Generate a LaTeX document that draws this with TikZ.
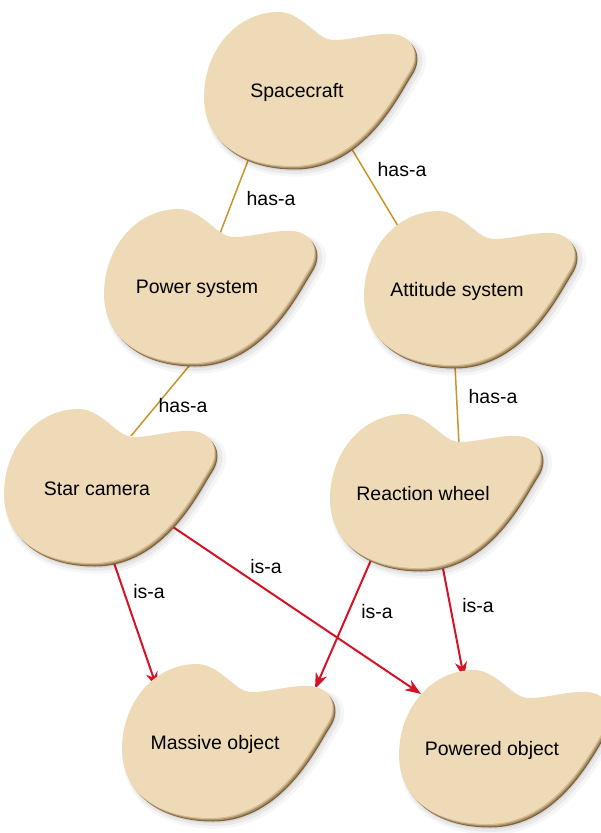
\documentclass[tikz,border=0pt]{standalone}
\usepackage{fontspec}
\setmainfont{Liberation Sans}
\usetikzlibrary{arrows.meta,calc}

\definecolor{blobfill}{RGB}{238,218,182}
\definecolor{blobrim}{RGB}{128,100,62}
\definecolor{blobmid}{RGB}{170,142,100}
\definecolor{bloblow}{RGB}{210,186,146}
\definecolor{hasline}{RGB}{198,148,40}
\definecolor{isline}{RGB}{214,18,38}

% outline of one bean-shaped blob, relative to its label centre
\newcommand\blobshape[1]{\fill[#1] (-93,5)
  .. controls (-93,-40) and (-62,-80) .. (-18,-80)
  .. controls (5,-80) and (18,-52) .. (37,-52)
  .. controls (55,-52) and (75,-59) .. (95,-58)
  .. controls (115,-57) and (124,-38) .. (112,-20)
  .. controls (100,-2) and (65,74) .. (-5,74)
  .. controls (-55,74) and (-93,50) .. (-93,5) -- cycle;}

\tikzset{
  lbl/.style={font=\fontsize{19.5}{22}\selectfont, inner sep=0pt},
  blob/.pic={
    % soft drop shadow
    \blobshape{black,opacity=0.035,shift={(6,7)},scale=1.05}
    \blobshape{black,opacity=0.05,shift={(5,6)},scale=1.025}
    \blobshape{black,opacity=0.07,shift={(4,5)}}
    % bevelled rim, dark towards the lower right
    \blobshape{blobrim,shift={(3,3.5)}}
    \blobshape{blobmid,shift={(2,2.4)}}
    \blobshape{bloblow,shift={(1,1.2)}}
    \blobshape{blobfill}
    \node[lbl] (-t) {#1};
  },
  hasa/.style={draw=hasline, line width=1.5pt},
  isa/.style={draw=isline, line width=2pt,
    -{Stealth[length=16pt,width=12pt,inset=5pt]}},
}

\begin{document}
\begin{tikzpicture}[x=1pt,y=-1pt]
\useasboundingbox (0,0) rectangle (600,833);

% connector end points
\coordinate (sc-a) at (249,158);  \coordinate (ps-a) at (219,236);
\coordinate (sc-b) at (347,141);  \coordinate (as-a) at (401,231);
\coordinate (ps-b) at (194,360);  \coordinate (cam-a) at (131,436);
\coordinate (as-b) at (455,366);  \coordinate (rw-a) at (459,444);
\coordinate (cam-b) at (113,560); \coordinate (mo-a) at (157,688);
\coordinate (cam-c) at (170,525); \coordinate (po-a) at (421,694);
\coordinate (rw-b) at (371,560);  \coordinate (mo-b) at (315,689);
\coordinate (rw-c) at (441,558);  \coordinate (po-b) at (464,678);

% has-a links
\draw[hasa] (sc-a) -- (ps-a);
\draw[hasa] (sc-b) -- (as-a);
\draw[hasa] (ps-b) -- (cam-a);
\draw[hasa] (as-b) -- (rw-a);

% is-a links
\draw[isa] (cam-b) -- (mo-a);
\draw[isa] (cam-c) -- (po-a);
\draw[isa] (rw-b) -- (mo-b);
\draw[isa] (rw-c) -- (po-b);

% link labels
\node[lbl] (l1) at (271,199) {has-a};
\node[lbl] (l2) at (402,170) {has-a};
\node[lbl] (l3) at (183,406) {has-a};
\node[lbl] (l4) at (493,397) {has-a};
\node[lbl] (l5) at (149,592) {is-a};
\node[lbl] (l6) at (266,567) {is-a};
\node[lbl] (l7) at (377,612) {is-a};
\node[lbl] (l8) at (478,606) {is-a};

% concepts
\pic (sc)  at (297,92)  {blob=Spacecraft};
\pic (ps)  at (197,289) {blob=Power system};
\pic (as)  at (457,291) {blob=Attitude system};
\pic (cam) at (97,489)  {blob=Star camera};
\pic (rw)  at (423,494) {blob=Reaction wheel};
\pic (mo)  at (215,744) {blob=Massive object};
\pic (po)  at (492,750) {blob=Powered object};
\end{tikzpicture}
\end{document}
